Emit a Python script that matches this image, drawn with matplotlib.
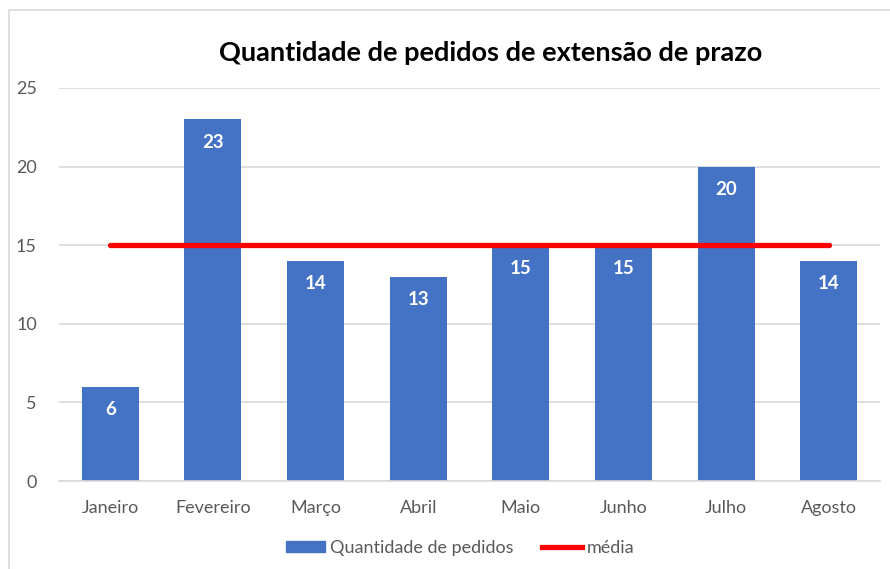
import numpy as np
import matplotlib.pyplot as plt
from matplotlib.patches import Rectangle
from matplotlib.lines import Line2D

meses = ["Janeiro", "Fevereiro", "Março", "Abril", "Maio", "Junho", "Julho", "Agosto"]
pedidos = [6, 23, 14, 13, 15, 15, 20, 14]
media = [15, 15, 15, 15, 15, 15, 15, 15]

plt.rcParams['font.family'] = ['Lato', 'DejaVu Sans']

fig = plt.figure(figsize=(8.9, 5.69), dpi=100)
W, H = 890, 569
ax = fig.add_axes([59 / W, 1 - 481 / H, (880 - 59) / W, (481 - 88) / H])

# chart border (right and bottom edges fall outside the image)
fig.patches.append(Rectangle((8.5 / W, -0.1), 1.2, 1.1 - 10 / H, transform=fig.transFigure,
                             fill=False, edgecolor='#D9D9D9', linewidth=1.2))

x = np.arange(len(meses))
ax.bar(x, pedidos, width=0.555, color='#4472C4', zorder=2)
ax.plot(x, media, color='#FF0000', linewidth=3.8, zorder=3, solid_capstyle='round')

for xi, v in zip(x, pedidos):
    ax.annotate(str(v), (xi, v), xytext=(0, -23), textcoords='offset pixels',
                ha='center', va='center', color='white', fontsize=13.5,
                fontweight='bold', zorder=4)

ax.set_xlim(-0.5, len(meses) - 0.5)
ax.set_ylim(0, 25)
ax.set_yticks([0, 5, 10, 15, 20, 25])
ax.set_xticks(x)
ax.set_xticklabels(meses)
ax.yaxis.grid(True, color='#D9D9D9', linewidth=1.2, zorder=0)
ax.set_axisbelow(True)
for s in ['top', 'right', 'left']:
    ax.spines[s].set_visible(False)
ax.spines['bottom'].set_color('#D9D9D9')
ax.spines['bottom'].set_linewidth(1.2)
ax.tick_params(axis='both', length=0, labelsize=13, labelcolor='#595959')
ax.tick_params(axis='x', pad=14)
ax.tick_params(axis='y', pad=16)

fig.text(491 / W, 1 - 53 / H, "Quantidade de pedidos de extensão de prazo",
         ha='center', va='center', fontsize=19.5, fontweight='bold', color='black')

handles = [Rectangle((0, 0), 1, 1, color='#4472C4'),
           Line2D([0], [0], color='#FF0000', linewidth=3.8)]
fig.legend(handles, ["Quantidade de pedidos", "média"], loc='center',
           bbox_to_anchor=(460 / W, 1 - 548 / H), ncol=2, frameon=False,
           fontsize=13, labelcolor='#595959', handlelength=2.2, handleheight=0.6,
           handletextpad=0.25, columnspacing=1.6)

fig.savefig('out.png', dpi=100, facecolor='white')
